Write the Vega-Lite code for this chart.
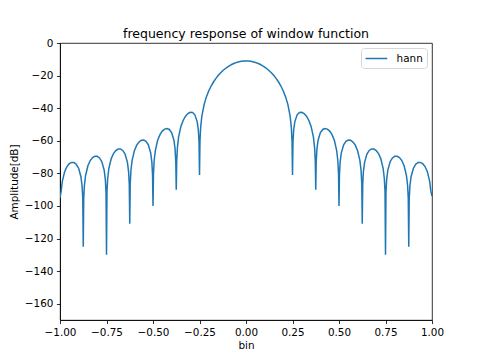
{
"$schema": "https://vega.github.io/schema/vega-lite/v6.json",
"width": 372, "height": 277,
"autosize": {"type": "none"},
"padding": {"left": 60, "top": 43, "right": 48, "bottom": 40},
"background": "#ffffff",
"title": {"text": "frequency response of window function", "fontSize": 12.5, "fontWeight": "normal", "font": "DejaVu Sans", "color": "#000", "offset": -2},
"config": {
  "font": "DejaVu Sans",
  "view": {"stroke": "#000", "strokeWidth": 0.8},
  "axis": {"labelFont": "DejaVu Sans", "labelFontSize": 10.4, "labelColor": "#000", "tickColor": "#000", "tickSize": 3.6, "tickWidth": 0.8, "domainColor": "#000", "domainWidth": 0.8, "titleFont": "DejaVu Sans", "titleFontWeight": "normal", "titleFontSize": 10.4, "titleColor": "#000", "labelPadding": 3.5, "grid": false, "labelFlush": false, "labelOverlap": false}
},
"data": {"values": [
{"bin":-1.0,"dB":-95},{"bin":-0.99375,"dB":-90.94},{"bin":-0.9875,"dB":-84.86},{"bin":-0.975,"dB":-78.94},{"bin":-0.9625,"dB":-75.83},{"bin":-0.95,"dB":-74.08},{"bin":-0.9375,"dB":-73.29},{"bin":-0.925,"dB":-73.37},{"bin":-0.9125,"dB":-74.42},{"bin":-0.9,"dB":-76.83},{"bin":-0.8875,"dB":-82.04},{"bin":-0.88125,"dB":-87.77},{"bin":-0.8775,"dB":-95.59},{"bin":-0.875,"dB":-125},
{"bin":-0.8725,"dB":-95.43},{"bin":-0.86875,"dB":-87.39},{"bin":-0.8625,"dB":-81.29},{"bin":-0.85,"dB":-75.32},{"bin":-0.8375,"dB":-72.15},{"bin":-0.825,"dB":-70.35},{"bin":-0.8125,"dB":-69.51},{"bin":-0.8,"dB":-69.54},{"bin":-0.7875,"dB":-70.52},{"bin":-0.775,"dB":-72.87},{"bin":-0.7625,"dB":-78.03},{"bin":-0.75625,"dB":-83.72},{"bin":-0.7525,"dB":-91.52},{"bin":-0.75,"dB":-130},
{"bin":-0.7475,"dB":-91.34},{"bin":-0.74375,"dB":-83.28},{"bin":-0.7375,"dB":-77.14},{"bin":-0.725,"dB":-71.10},{"bin":-0.7125,"dB":-67.86},{"bin":-0.7,"dB":-65.99},{"bin":-0.6875,"dB":-65.07},{"bin":-0.675,"dB":-65.02},{"bin":-0.6625,"dB":-65.93},{"bin":-0.65,"dB":-68.19},{"bin":-0.6375,"dB":-73.26},{"bin":-0.63125,"dB":-78.90},{"bin":-0.6275,"dB":-86.67},{"bin":-0.625,"dB":-111},
{"bin":-0.6225,"dB":-86.46},{"bin":-0.61875,"dB":-78.37},{"bin":-0.6125,"dB":-72.19},{"bin":-0.6,"dB":-66.05},{"bin":-0.5875,"dB":-62.71},{"bin":-0.575,"dB":-60.72},{"bin":-0.5625,"dB":-59.70},{"bin":-0.55,"dB":-59.53},{"bin":-0.5375,"dB":-60.31},{"bin":-0.525,"dB":-62.45},{"bin":-0.5125,"dB":-67.38},{"bin":-0.50625,"dB":-72.95},{"bin":-0.5025,"dB":-80.68},{"bin":-0.5,"dB":-100},
{"bin":-0.4975,"dB":-80.41},{"bin":-0.49375,"dB":-72.27},{"bin":-0.4875,"dB":-66.02},{"bin":-0.475,"dB":-59.72},{"bin":-0.4625,"dB":-56.22},{"bin":-0.45,"dB":-54.06},{"bin":-0.4375,"dB":-52.85},{"bin":-0.425,"dB":-52.48},{"bin":-0.4125,"dB":-53.06},{"bin":-0.4,"dB":-54.97},{"bin":-0.3875,"dB":-59.67},{"bin":-0.38125,"dB":-65.12},{"bin":-0.3775,"dB":-72.78},{"bin":-0.375,"dB":-90},
{"bin":-0.3725,"dB":-72.40},{"bin":-0.36875,"dB":-64.18},{"bin":-0.3625,"dB":-57.79},{"bin":-0.35,"dB":-51.20},{"bin":-0.3375,"dB":-47.38},{"bin":-0.325,"dB":-44.89},{"bin":-0.3125,"dB":-43.31},{"bin":-0.3,"dB":-42.54},{"bin":-0.2875,"dB":-42.67},{"bin":-0.275,"dB":-44.09},{"bin":-0.2625,"dB":-48.24},{"bin":-0.25625,"dB":-53.40},{"bin":-0.2525,"dB":-60.86},{"bin":-0.25,"dB":-81},
{"bin":-0.2475,"dB":-60.23},{"bin":-0.24375,"dB":-51.81},{"bin":-0.2375,"dB":-45.05},{"bin":-0.225,"dB":-37.67},{"bin":-0.2125,"dB":-32.92},{"bin":-0.2,"dB":-29.32},{"bin":-0.1875,"dB":-26.40},{"bin":-0.175,"dB":-23.95},{"bin":-0.1625,"dB":-21.84},{"bin":-0.15,"dB":-20.01},{"bin":-0.1375,"dB":-18.42},{"bin":-0.125,"dB":-17.02},{"bin":-0.1125,"dB":-15.80},{"bin":-0.1,"dB":-14.75},{"bin":-0.0875,"dB":-13.84},{"bin":-0.075,"dB":-13.07},{"bin":-0.0625,"dB":-12.42},{"bin":-0.05,"dB":-11.91},{"bin":-0.0375,"dB":-11.51},{"bin":-0.025,"dB":-11.22},{"bin":-0.0125,"dB":-11.06},
{"bin":0,"dB":-11},
{"bin":0.0125,"dB":-11.06},{"bin":0.025,"dB":-11.22},{"bin":0.0375,"dB":-11.51},{"bin":0.05,"dB":-11.91},{"bin":0.0625,"dB":-12.42},{"bin":0.075,"dB":-13.07},{"bin":0.0875,"dB":-13.84},{"bin":0.1,"dB":-14.75},{"bin":0.1125,"dB":-15.80},{"bin":0.125,"dB":-17.02},{"bin":0.1375,"dB":-18.42},{"bin":0.15,"dB":-20.01},{"bin":0.1625,"dB":-21.84},{"bin":0.175,"dB":-23.95},{"bin":0.1875,"dB":-26.40},{"bin":0.2,"dB":-29.32},{"bin":0.2125,"dB":-32.92},{"bin":0.225,"dB":-37.67},{"bin":0.2375,"dB":-45.05},{"bin":0.24375,"dB":-51.81},{"bin":0.2475,"dB":-60.23},{"bin":0.25,"dB":-81},
{"bin":0.2525,"dB":-60.86},{"bin":0.25625,"dB":-53.40},{"bin":0.2625,"dB":-48.24},{"bin":0.275,"dB":-44.09},{"bin":0.2875,"dB":-42.67},{"bin":0.3,"dB":-42.54},{"bin":0.3125,"dB":-43.31},{"bin":0.325,"dB":-44.89},{"bin":0.3375,"dB":-47.38},{"bin":0.35,"dB":-51.20},{"bin":0.3625,"dB":-57.79},{"bin":0.36875,"dB":-64.18},{"bin":0.3725,"dB":-72.40},{"bin":0.375,"dB":-90},
{"bin":0.3775,"dB":-72.78},{"bin":0.38125,"dB":-65.12},{"bin":0.3875,"dB":-59.67},{"bin":0.4,"dB":-54.97},{"bin":0.4125,"dB":-53.06},{"bin":0.425,"dB":-52.48},{"bin":0.4375,"dB":-52.85},{"bin":0.45,"dB":-54.06},{"bin":0.4625,"dB":-56.22},{"bin":0.475,"dB":-59.72},{"bin":0.4875,"dB":-66.02},{"bin":0.49375,"dB":-72.27},{"bin":0.4975,"dB":-80.41},{"bin":0.5,"dB":-100},
{"bin":0.5025,"dB":-80.68},{"bin":0.50625,"dB":-72.95},{"bin":0.5125,"dB":-67.38},{"bin":0.525,"dB":-62.45},{"bin":0.5375,"dB":-60.31},{"bin":0.55,"dB":-59.53},{"bin":0.5625,"dB":-59.70},{"bin":0.575,"dB":-60.72},{"bin":0.5875,"dB":-62.71},{"bin":0.6,"dB":-66.05},{"bin":0.6125,"dB":-72.19},{"bin":0.61875,"dB":-78.37},{"bin":0.6225,"dB":-86.46},{"bin":0.625,"dB":-111},
{"bin":0.6275,"dB":-86.67},{"bin":0.63125,"dB":-78.90},{"bin":0.6375,"dB":-73.26},{"bin":0.65,"dB":-68.19},{"bin":0.6625,"dB":-65.93},{"bin":0.675,"dB":-65.02},{"bin":0.6875,"dB":-65.07},{"bin":0.7,"dB":-65.99},{"bin":0.7125,"dB":-67.86},{"bin":0.725,"dB":-71.10},{"bin":0.7375,"dB":-77.14},{"bin":0.74375,"dB":-83.28},{"bin":0.7475,"dB":-91.34},{"bin":0.75,"dB":-130},
{"bin":0.7525,"dB":-91.52},{"bin":0.75625,"dB":-83.72},{"bin":0.7625,"dB":-78.03},{"bin":0.775,"dB":-72.87},{"bin":0.7875,"dB":-70.52},{"bin":0.8,"dB":-69.54},{"bin":0.8125,"dB":-69.51},{"bin":0.825,"dB":-70.35},{"bin":0.8375,"dB":-72.15},{"bin":0.85,"dB":-75.32},{"bin":0.8625,"dB":-81.29},{"bin":0.86875,"dB":-87.39},{"bin":0.8725,"dB":-95.43},{"bin":0.875,"dB":-125},
{"bin":0.8775,"dB":-95.59},{"bin":0.88125,"dB":-87.77},{"bin":0.8875,"dB":-82.04},{"bin":0.9,"dB":-76.83},{"bin":0.9125,"dB":-74.42},{"bin":0.925,"dB":-73.37},{"bin":0.9375,"dB":-73.29},{"bin":0.95,"dB":-74.08},{"bin":0.9625,"dB":-75.83},{"bin":0.975,"dB":-78.94},{"bin":0.9875,"dB":-84.86},{"bin":0.99375,"dB":-90.94},{"bin":1.0,"dB":-94}
]},
"mark": {"type": "line", "strokeWidth": 1.5, "clip": true},
"encoding": {
  "x": {"field": "bin", "type": "quantitative", "scale": {"domain": [-1, 1], "nice": false, "zero": false}, "axis": {"values": [-1, -0.75, -0.5, -0.25, 0, 0.25, 0.5, 0.75, 1], "format": ".2f", "title": "bin", "titlePadding": 3}},
  "y": {"field": "dB", "type": "quantitative", "scale": {"domain": [-170, 0], "nice": false, "zero": false}, "axis": {"values": [0, -20, -40, -60, -80, -100, -120, -140, -160], "title": "Amplitude[dB]", "titlePadding": 5}},
  "color": {"datum": "hann", "scale": {"range": ["#1f77b4"]}, "legend": {"title": null, "orient": "top-right", "offset": 5, "fillColor": "#fff", "strokeColor": "#d6d6d6", "cornerRadius": 3, "padding": 4, "symbolType": "M-1.1,0H2.9", "symbolSize": 117, "symbolStrokeWidth": 1.5, "labelFontSize": 10.4, "labelFont": "DejaVu Sans", "labelColor": "#000", "labelOffset": 18.6}}
}
}
